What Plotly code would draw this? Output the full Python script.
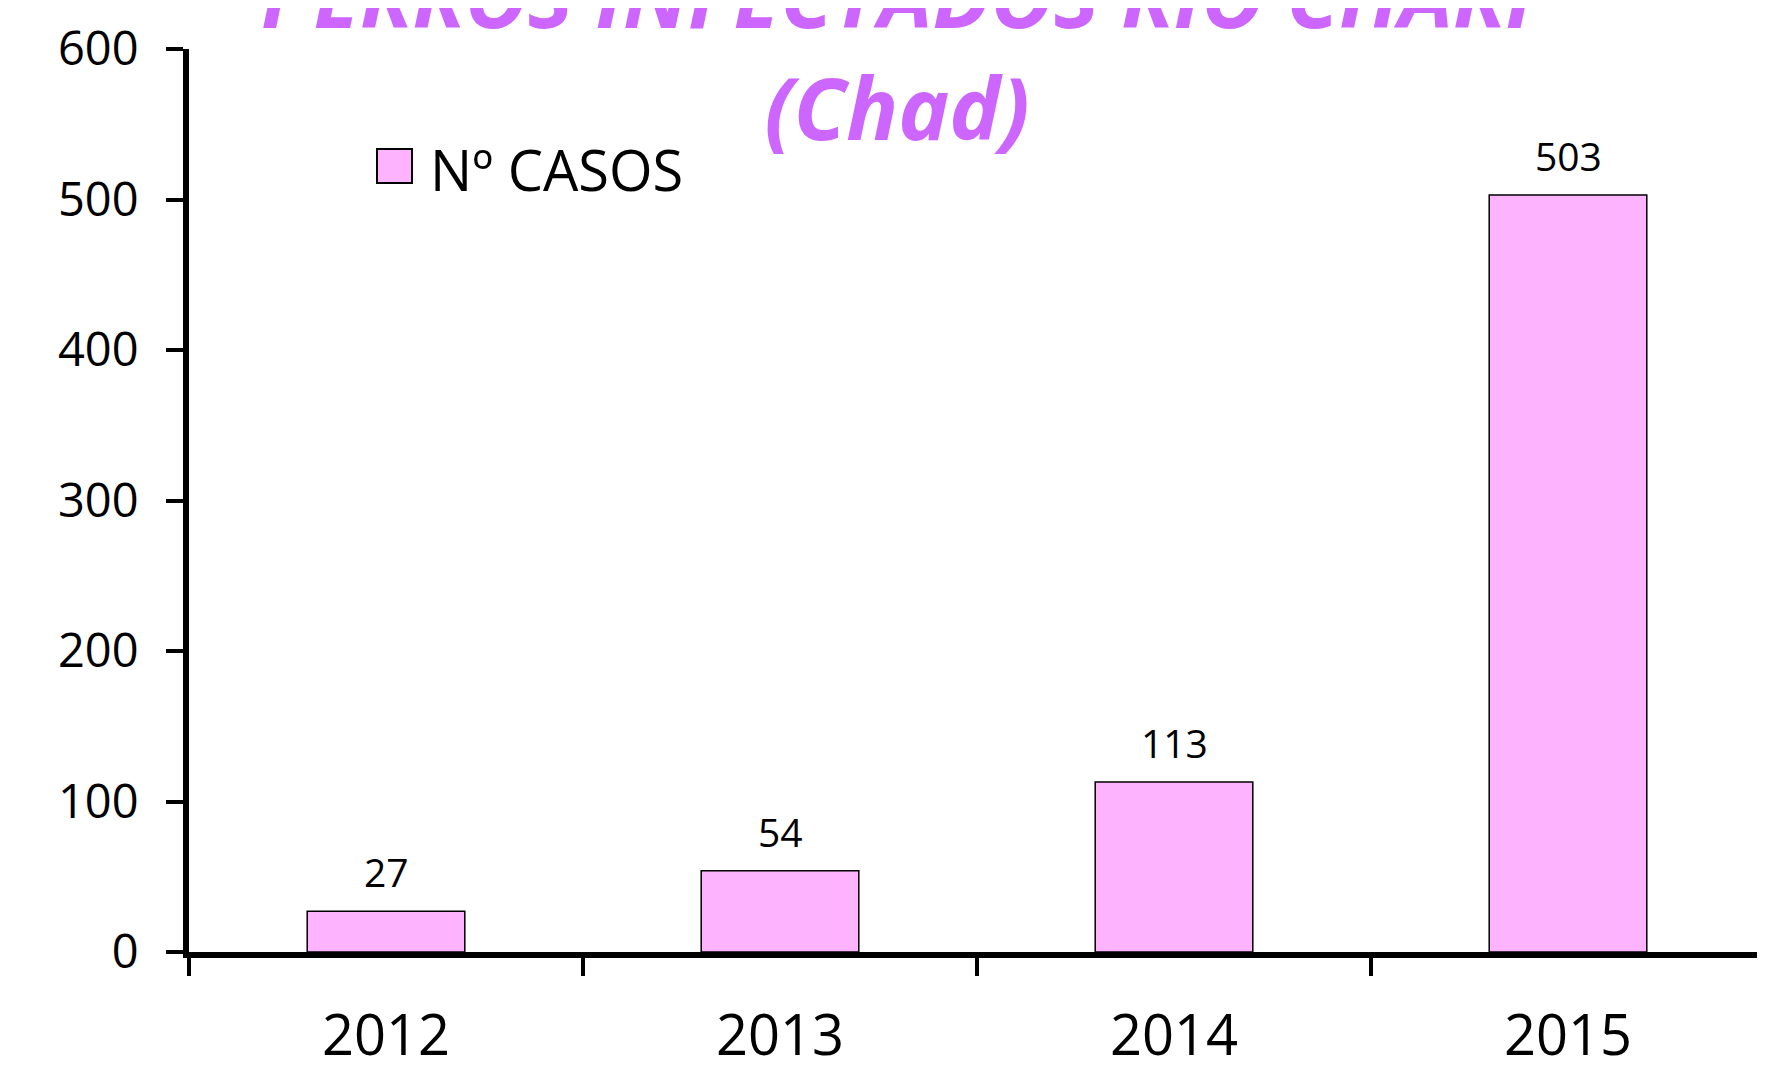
import plotly.graph_objects as go

years = ["2012", "2013", "2014", "2015"]
casos = [27, 54, 113, 503]
y_ticks = [0, 100, 200, 300, 400, 500, 600]
series_name = "Nº CASOS"
title_lines = ["PERROS INFECTADOS RIO CHARI", "(Chad)"]

# page uses default 8px body margin -> shrink figure and offset margins
OFF = 8
W, H = 1765 - OFF, 1069 - OFF
PL, PR, PT, PB = 189, 1765, 49, 952   # plot area in page pixels
L, R, T, B = PL - OFF, 0, PT - OFF, H - (PB - OFF)
pw, ph = PR - PL, PB - PT

FONT = "Open Sans"
BAR = "#FDB3FD"
TITLE = "#CC66FF"

fig = go.Figure()
fig.add_trace(go.Bar(
    x=years, y=casos, name=series_name,
    marker=dict(color=BAR, line=dict(color="black", width=1.5)),
    width=0.4, showlegend=False,
))

annotations = []
for i, v in enumerate(casos):
    annotations.append(dict(
        x=i, y=v, xref="x", yref="y", text=str(v), showarrow=False,
        yanchor="bottom", yshift=11,
        font=dict(family=FONT, size=39, color="black"),
    ))

# legend-like marker + label (page pixel positions -> paper)
def px_x(p):
    return (p - PL) / pw

def px_y(p):
    return (PB - p) / ph

annotations.append(dict(
    x=px_x(428), y=px_y(169), xref="paper", yref="paper", text=series_name,
    showarrow=False, xanchor="left", yanchor="middle",
    font=dict(family=FONT, size=56, color="black"),
))
shapes = [dict(
    type="rect", xref="paper", yref="paper",
    x0=px_x(377), x1=px_x(412), y0=px_y(183), y1=px_y(149),
    fillcolor=BAR, line=dict(color="black", width=2),
)]

fig.update_layout(
    width=W, height=H,
    margin=dict(l=L, r=R, t=T, b=B, autoexpand=False),
    paper_bgcolor="white", plot_bgcolor="white",
    title=dict(
        text="<b><i>" + "<br>".join(title_lines) + "</i></b>",
        x=(897 - OFF) / W, xanchor="center", xref="container",
        y=1 - 20 / H, yanchor="middle", yref="container",
        font=dict(family=FONT, size=86, color=TITLE),
    ),
    annotations=annotations,
    shapes=shapes,
    bargap=0.6,
)
fig.update_xaxes(
    type="category", range=[-0.5, 3.5], showline=True, linecolor="black", linewidth=6,
    ticks="outside", tickson="boundaries", ticklen=18, tickwidth=4, tickcolor="black",
    showgrid=False, ticklabelstandoff=30, tickangle=0, automargin=False,
    tickfont=dict(family=FONT, size=56, color="black"),
)
fig.update_yaxes(
    range=[0, 600], tickvals=y_ticks, showline=True, linecolor="black", linewidth=6,
    ticks="outside", ticklen=17, tickwidth=4, tickcolor="black",
    showgrid=False, zeroline=False, ticklabelstandoff=18, automargin=False,
    tickfont=dict(family=FONT, size=47, color="black"),
)

fig.write_html("out.html")
